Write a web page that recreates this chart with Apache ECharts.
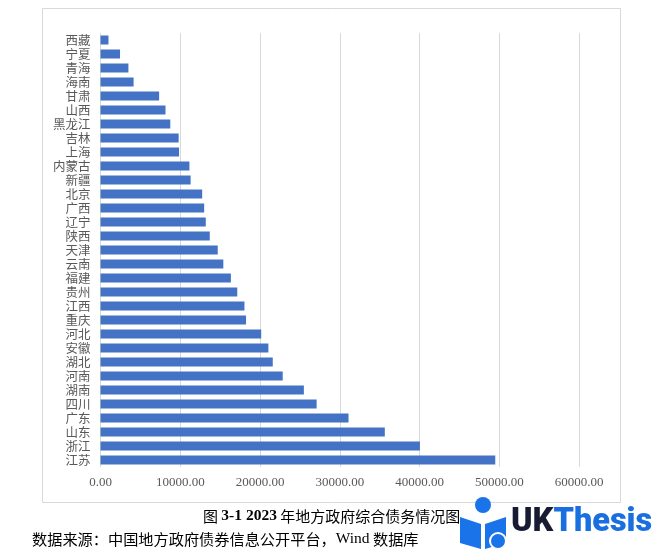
<!DOCTYPE html>
<html><head><meta charset="utf-8">
<script src="https://cdn.jsdelivr.net/npm/echarts@6/dist/echarts.min.js"></script>
<style>html,body{margin:0;padding:0;background:#fff}#c{width:669px;height:551px}</style>
</head><body><div id="c"></div>
<script>
const provinces = ['西藏','宁夏','青海','海南','甘肃','山西','黑龙江','吉林','上海','内蒙古','新疆','北京','广西','辽宁','陕西','天津','云南','福建','贵州','江西','重庆','河北','安徽','湖北','河南','湖南','四川','广东','山东','浙江','江苏'];
const debtValues = [1000,2450,3500,4150,7350,8150,8750,9800,9850,11150,11300,12750,13000,13200,13700,14700,15400,16350,17150,18050,18250,20150,21050,21600,22850,25500,27100,31100,35650,40050,49500];
const xTicks = {min:0, max:60000, interval:10000};
const captionText = '图 3-1 2023 年地方政府综合债务情况图';
const sourceText = '数据来源：中国地方政府债券信息公开平台，Wind 数据库';

const chart = echarts.init(document.getElementById('c'));
chart.setOption({
  animation:false,
  grid:{left:100.5, right:90, top:33, bottom:84, containLabel:false},
  xAxis:{type:'value', min:xTicks.min, max:xTicks.max, interval:xTicks.interval,
    axisLine:{show:false}, axisTick:{show:false},
    splitLine:{lineStyle:{color:'#d9d9d9', width:1}},
    axisLabel:{formatter:v=>v.toFixed(2), color:'#595959', fontFamily:'Liberation Serif', fontSize:13, margin:9}},
  yAxis:{type:'category', data:provinces, inverse:true,
    axisLine:{show:false}, axisTick:{show:false},
    axisLabel:{color:'#595959', fontFamily:'Noto Sans CJK SC', fontSize:12.5, margin:10, interval:0}},
  series:[{type:'bar', data:debtValues, barWidth:9, itemStyle:{color:'#4472C4'}}],
  graphic:[
    {type:'rect', shape:{x:42.5, y:8.5, width:578, height:494}, style:{fill:'none', stroke:'#d9d9d9', lineWidth:1}, z:-1},
    {type:'text', left:203, top:508, style:{
      text:'图 {b|3-1 2023} 年地方政府综合债务情况图', fill:'#000', fontSize:15, fontFamily:'Noto Sans CJK SC',
      rich:{b:{fontWeight:'bold', fontFamily:'Liberation Serif', fontSize:15.5, fill:'#000'}}}},
    {type:'text', left:32, top:531, style:{
      text:'数据来源：中国地方政府债券信息公开平台，{w|Wind} 数据库', fill:'#000', fontSize:15.2, fontFamily:'Noto Sans CJK SC',
      rich:{w:{fontFamily:'Liberation Serif', fontSize:15.5, fill:'#000'}}}},
    {type:'group', children:[
      {type:'circle', shape:{cx:483, cy:505, r:8}, style:{fill:'#1a73e8'}},
      {type:'polygon', shape:{points:[[460,517],[481,524],[481,549],[460,543]]}, style:{fill:'#1a73e8'}},
      {type:'polygon', shape:{points:[[485,524],[506,517],[506,543],[485,549]]}, style:{fill:'#1a73e8'}},
      {type:'circle', shape:{cx:498, cy:541, r:8}, style:{fill:'#1a73e8', stroke:'#fff', lineWidth:2}},
      {type:'text', left:511, top:506, style:{text:'{u|UK}{t|Thesis}', rich:{
        u:{fontFamily:'Roboto', fontWeight:900, fontSize:32.5, fill:'#171c33'},
        t:{fontFamily:'Roboto', fontWeight:900, fontSize:32.5, fill:'#1a6fe0'}}}}
    ]}
  ]
});
</script></body></html>
